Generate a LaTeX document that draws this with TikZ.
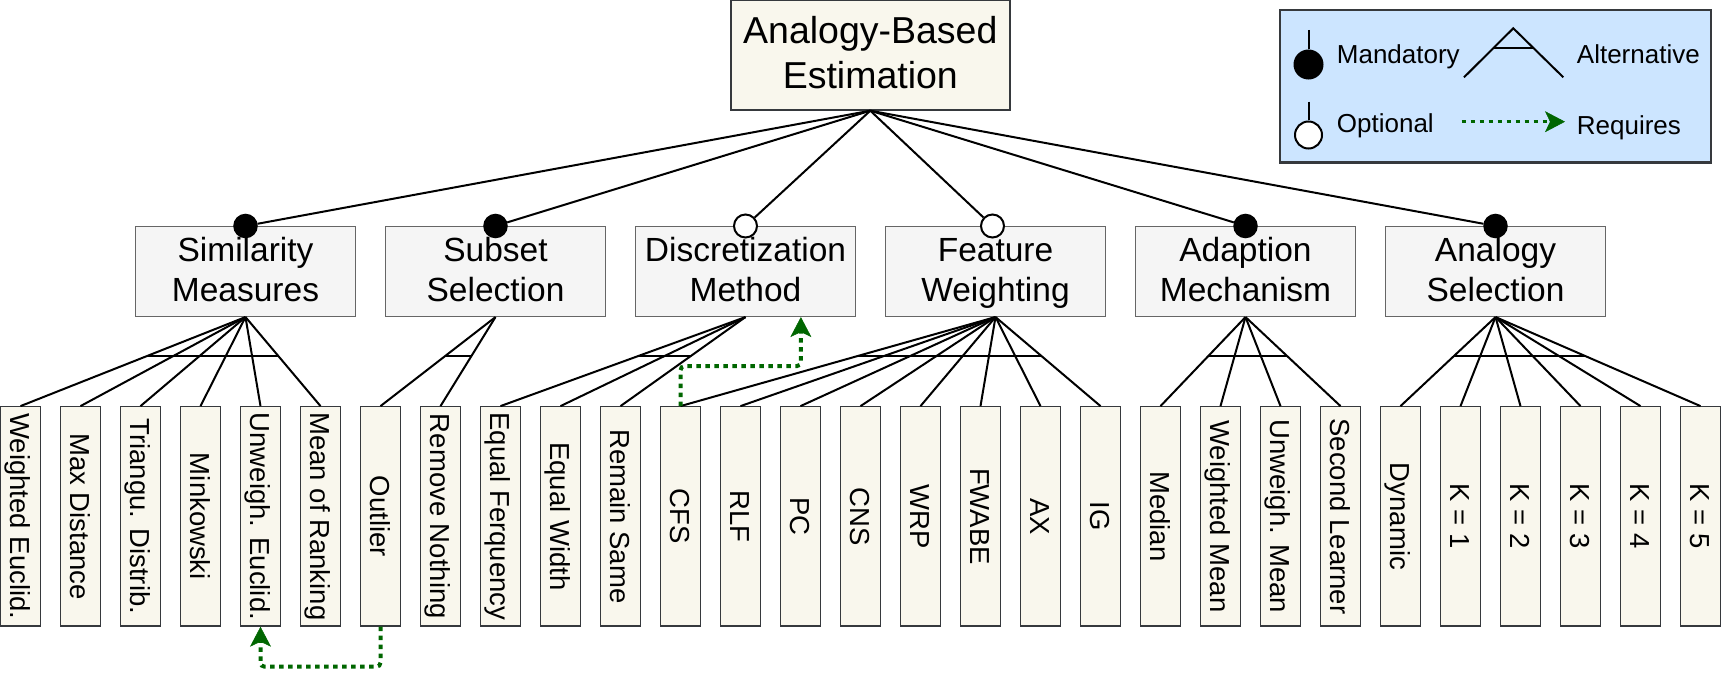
\documentclass[tikz,border=0pt]{standalone}
\usepackage{fontspec}
\setmainfont{Liberation Sans}
\usetikzlibrary{arrows.meta,calc}
\definecolor{leaffill}{HTML}{F9F7ED}
\definecolor{darkstroke}{HTML}{36393D}
\definecolor{grayfill}{HTML}{F5F5F5}
\definecolor{graystroke}{HTML}{666666}
\definecolor{legfill}{HTML}{CCE5FF}
\definecolor{reqgreen}{HTML}{006600}
\newcommand\featstrut{\rule[-9pt]{0pt}{38.5pt}}
\newcommand\rootstrut{\rule[-12pt]{0pt}{45pt}}
\begin{document}
\begin{tikzpicture}[x=1pt,y=-1pt,
  rootbox/.style={draw=darkstroke, fill=leaffill, line width=1.5pt, minimum width=279pt, minimum height=109.5pt, inner sep=0pt, align=center, font=\fontsize{37.5}{45}\selectfont},
  featbox/.style={draw=graystroke, fill=grayfill, line width=1.5pt, minimum width=220pt, minimum height=89.6pt, inner sep=0pt, align=center, font=\fontsize{33.5}{40}\selectfont},
  leafbox/.style={draw=darkstroke, fill=leaffill, line width=1.3pt, minimum width=39.7pt, minimum height=219.3pt, inner sep=0pt},
  leaftext/.style={rotate=-90, inner sep=0pt, text height=20pt, text depth=0pt, font=\fontsize{27.5}{33}\selectfont},
  conn/.style={line width=2pt, black},
  mand/.style={circle, draw=black, fill=black, line width=1.5pt, minimum size=23pt, inner sep=0pt},
  opt/.style={circle, draw=black, fill=white, line width=2pt, minimum size=23pt, inner sep=0pt},
  req/.style={draw=reqgreen, line width=4pt, dash pattern=on 4.5pt off 4.5pt, rounded corners=4pt, -{Stealth[length=20pt,width=21pt,inset=5pt,line width=0.5pt,fill=reqgreen]}},
  legtext/.style={anchor=base west, inner sep=0pt, font=\fontsize{26}{31}\selectfont}
]
\useasboundingbox (0,0) rectangle (1724,679);

% root
\node[rootbox] (root) at (870.3,55.2) {\rootstrut Analogy-Based\\\rootstrut Estimation};

% features
\node[featbox] (sim)    at (245.5,271.5) {\featstrut Similarity\\\featstrut Measures};
\node[featbox] (sub)    at (495.5,271.5) {\featstrut Subset\\\featstrut Selection};
\node[featbox] (disc)   at (745.5,271.5) {\featstrut Discretization\\\featstrut Method};
\node[featbox] (feat)   at (995.5,271.5) {\featstrut Feature\\\featstrut Weighting};
\node[featbox] (adapt)  at (1245.5,271.5) {\featstrut Adaption\\\featstrut Mechanism};
\node[featbox] (anasel) at (1495.5,271.5) {\featstrut Analogy\\\featstrut Selection};

% leaves
\foreach \t [count=\i from 0] in {Weighted Euclid., Max Distance, Triangu. Distrib., Minkowski, Unweigh. Euclid., Mean of Ranking, Outlier, Remove Nothing, Equal Ferquency, Equal Width, Remain Same, CFS, RLF, PC, CNS, WRP, FWABE, AX, IG, Median, Weighted Mean, Unweigh. Mean, Second Learner, Dynamic, K = 1, K = 2, K = 3, K = 4, K = 5}{
  \node[leafbox] (l\i) at ({20.5+60*\i},516.4) {};
  \node[leaftext] (t\i) at (l\i.center) {\t};
}

% alternative groups
\foreach \g/\a/\b in {sim/0/5, sub/6/7, disc/8/10, feat/11/18, adapt/19/22, anasel/23/28}{
  \foreach \j in {\a,...,\b}{
    \draw[conn] (\g.south) -- (l\j.north);
  }
  \draw[conn] ($(\g.south)!0.439!(l\a.north)$) -- ($(\g.south)!0.439!(l\b.north)$);
}

% mandatory / optional markers
\node[mand] (c1) at (245.5,226) {};
\node[mand] (c2) at (495.5,226) {};
\node[opt]  (c3) at (745.5,226) {};
\node[opt]  (c4) at (992.5,226) {};
\node[mand] (c5) at (1245.5,226) {};
\node[mand] (c6) at (1495.5,226) {};
\foreach \k in {1,...,6}{
  \draw[conn] (root.south) -- (c\k);
}

% requires
\draw[req] (l6.south) -- ++(0,40) -| (l4.south);
\coordinate (dtarget) at ($(disc.south west)!0.75!(disc.south east)$);
\draw[req] (l11.north) -- ++(0,-40) -| (dtarget);

% legend
\node[draw=darkstroke, fill=legfill, line width=2.7pt, minimum width=431pt, minimum height=152.7pt, inner sep=0pt] (legend) at (1495.5,86.3) {};
\coordinate (m0) at (1308.5,30);
\node[mand, minimum size=28.5pt] (lm) at (1308.5,64.5) {};
\draw[conn] (m0) -- (lm);
\node[legtext] (tm) at (1336.7,63.3) {Mandatory};
\coordinate (o0) at (1308.5,101.7);
\node[opt, minimum size=27pt] (lo) at (1308.5,135) {};
\draw[conn] (o0) -- (lo);
\node[legtext] (to) at (1336.7,132.3) {Optional};
\draw[conn] (1464,77.3) -- (1513.3,28.3) -- (1563.3,77.3);
\draw[conn] (1493.5,48.3) -- (1533,48.3);
\node[legtext] (ta) at (1576.7,63.3) {Alternative};
\coordinate (r0) at (1461.7,121.7);
\coordinate (r1) at (1565,121.7);
\draw[req, line width=3.5pt] (r0) -- (r1);
\node[legtext] (tr) at (1576.7,135) {Requires};
\end{tikzpicture}
\end{document}
